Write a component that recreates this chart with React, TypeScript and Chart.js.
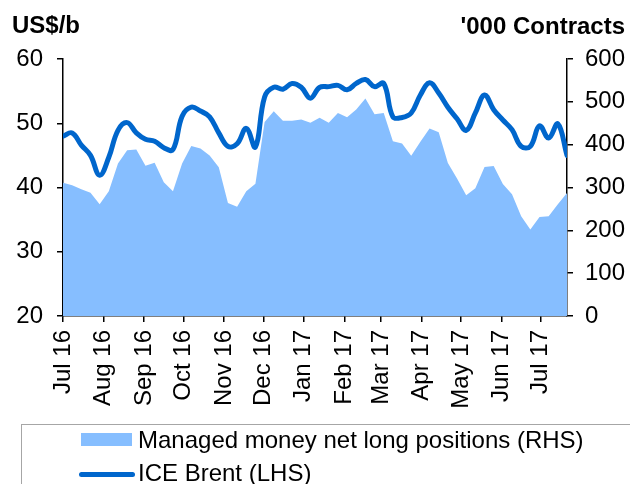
import React, { useEffect, useRef } from 'react';
import { Chart, registerables } from 'chart.js';

Chart.register(...registerables);

// Weekly observations starting 1 Jul 2016
const brentLHS = [
  48.0, 48.5, 46.6, 45.0, 41.9, 44.7, 48.9, 50.1, 48.5, 47.5,
  47.2, 46.2, 45.9, 51.1, 52.5, 51.9, 51.0, 48.5, 46.4, 46.8,
  49.2, 46.3, 54.1, 55.6, 55.3, 56.2, 55.6, 53.9, 55.6, 55.7,
  55.9, 55.2, 56.2, 56.8, 55.7, 56.2, 51.0, 50.9, 51.6, 54.4,
  56.3, 54.7, 52.5, 50.7, 48.9, 51.6, 54.4, 52.1, 50.5, 49.0,
  46.4, 46.4, 49.6, 47.7, 49.9, 45.0,
];

const managedMoneyRHS = [
  311, 305, 296, 288, 261, 291, 356, 387, 389, 351,
  358, 312, 291, 356, 397, 391, 375, 347, 264, 255,
  291, 309, 453, 478, 456, 456, 459, 451, 463, 451,
  474, 464, 482, 508, 471, 474, 408, 403, 374, 407,
  438, 429, 357, 321, 282, 298, 348, 350, 308, 284,
  233, 202, 231, 233, 261, 287,
];

const monthLabels = [
  'Jul 16', 'Aug 16', 'Sep 16', 'Oct 16', 'Nov 16', 'Dec 16', 'Jan 17',
  'Feb 17', 'Mar 17', 'Apr 17', 'May 17', 'Jun 17', 'Jul 17',
];

const leftTicks = [20, 30, 40, 50, 60];
const rightTicks = [0, 100, 200, 300, 400, 500, 600];

const legendArea = 'Managed money net long positions (RHS)';
const legendLine = 'ICE Brent (LHS)';

const START = Date.UTC(2016, 6, 1);
const DAY = 86400000;
const weekDays = brentLHS.map((_, i) => i * 7);
const monthDays = monthLabels.map((_, i) => (Date.UTC(2016, 6 + i, 1) - START) / DAY);

const FONT = "'Liberation Sans', Arial, sans-serif";
const LINE_BLUE = '#0066CC';
const AREA_BLUE = '#86BEFF';

export default function App() {
  const ref = useRef<HTMLCanvasElement | null>(null);

  useEffect(() => {
    if (!ref.current) return;
    const font = { family: FONT, size: 24 };
    const chart = new Chart(ref.current, {
      type: 'line',
      data: {
        datasets: [
          {
            label: legendLine,
            data: weekDays.map((x, i) => ({ x, y: brentLHS[i] })),
            yAxisID: 'y',
            borderColor: LINE_BLUE,
            borderWidth: 5,
            pointRadius: 0,
            tension: 0.4,
            fill: false,
            borderCapStyle: 'round',
            borderJoinStyle: 'round',
          },
          {
            label: legendArea,
            data: weekDays.map((x, i) => ({ x, y: managedMoneyRHS[i] })),
            yAxisID: 'y1',
            backgroundColor: AREA_BLUE,
            borderColor: AREA_BLUE,
            borderWidth: 0,
            pointRadius: 0,
            tension: 0,
            fill: 'origin',
          },
        ],
      },
      options: {
        animation: false,
        responsive: false,
        devicePixelRatio: 1,
        layout: { padding: { top: 59, left: 0, right: 0, bottom: 0 } },
        plugins: { legend: { display: false }, tooltip: { enabled: false } },
        scales: {
          x: {
            type: 'linear',
            min: 0,
            max: weekDays[weekDays.length - 1],
            afterBuildTicks: (s: any) => {
              s.ticks = monthDays.map((v) => ({ value: v }));
            },
            afterFit: (s: any) => {
              s.height = 168;
            },
            grid: { drawOnChartArea: false, drawTicks: true, tickLength: 6, color: '#000', lineWidth: 1.5 },
            border: { display: true, color: '#000', width: 1.5 },
            ticks: {
              autoSkip: false,
              maxRotation: 90,
              minRotation: 90,
              padding: 8,
              color: '#000',
              font,
              callback: (_v: any, i: number) => monthLabels[i],
            },
          },
          y: {
            position: 'left',
            min: 20,
            max: 60,
            afterBuildTicks: (s: any) => {
              s.ticks = leftTicks.map((v) => ({ value: v }));
            },
            afterFit: (s: any) => {
              s.width = 63;
            },
            grid: { drawOnChartArea: false, tickLength: 6, color: '#000', lineWidth: 1.5 },
            border: { display: true, color: '#000', width: 1.5 },
            ticks: { padding: 14, color: '#000', font },
          },
          y1: {
            position: 'right',
            min: 0,
            max: 600,
            afterBuildTicks: (s: any) => {
              s.ticks = rightTicks.map((v) => ({ value: v }));
            },
            afterFit: (s: any) => {
              s.width = 63;
            },
            grid: { drawOnChartArea: false, tickLength: 6, color: '#000', lineWidth: 1.5 },
            border: { display: true, color: '#000', width: 1.5 },
            ticks: { padding: 12, color: '#000', font },
          },
        },
      },
    } as any);
    return () => chart.destroy();
  }, []);

  const textStyle: React.CSSProperties = {
    position: 'absolute',
    fontFamily: FONT,
    fontSize: 24,
    lineHeight: '24px',
    color: '#000',
    whiteSpace: 'nowrap',
  };

  return (
    <div
      style={{
        position: 'fixed',
        left: 0,
        top: 0,
        width: 630,
        height: 484,
        overflow: 'hidden',
        background: '#fff',
      }}
    >
      <canvas ref={ref} width={630} height={484} style={{ display: 'block', position: 'absolute', left: 0, top: 0 }} />
      <div style={{ ...textStyle, left: 12, top: 13, fontWeight: 'bold' }}>US$/b</div>
      <div style={{ ...textStyle, right: 5, top: 14, fontWeight: 'bold', textAlign: 'right' }}>'000 Contracts</div>
      <div
        style={{
          position: 'absolute',
          left: 21,
          top: 424,
          width: 700,
          height: 200,
          border: '1px solid #a6a6a6',
          boxSizing: 'border-box',
        }}
      />
      <div style={{ position: 'absolute', left: 81, top: 433, width: 51, height: 13, background: AREA_BLUE }} />
      <div style={{ ...textStyle, left: 138, top: 428 }}>{legendArea}</div>
      <div style={{ position: 'absolute', left: 79, top: 472, width: 56, height: 5, borderRadius: 3, background: LINE_BLUE }} />
      <div style={{ ...textStyle, left: 138, top: 461 }}>{legendLine}</div>
    </div>
  );
}
